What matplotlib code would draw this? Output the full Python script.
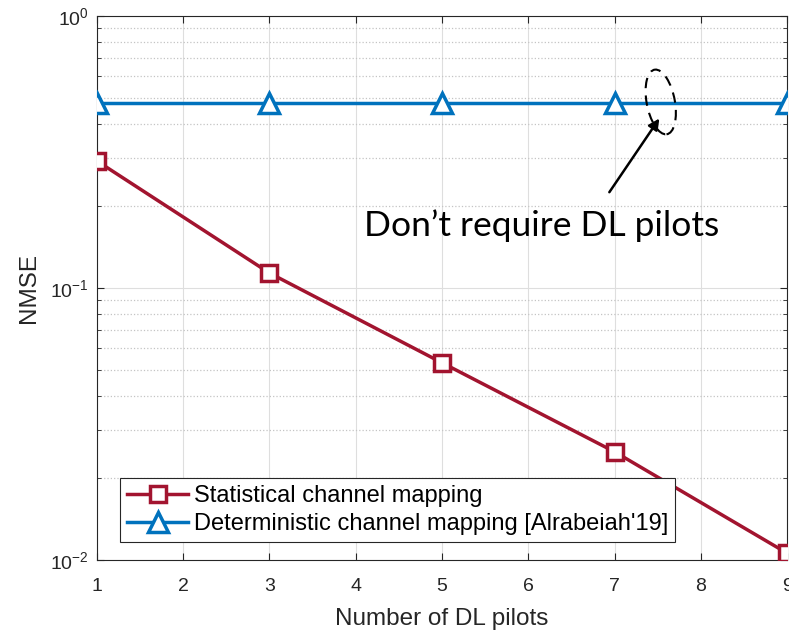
import numpy as np
import matplotlib
matplotlib.use("Agg")
import matplotlib.pyplot as plt
from matplotlib.patches import Ellipse

# data
pilots = [1, 3, 5, 7, 9]
nmse_stat = [0.293, 0.1135, 0.0531, 0.025, 0.0106]
nmse_det = [0.48, 0.48, 0.48, 0.48, 0.48]
lab_stat = "Statistical channel mapping"
lab_det = "Deterministic channel mapping [Alrabeiah'19]"

plt.rcParams['font.family'] = ['Liberation Sans', 'DejaVu Sans']
plt.rcParams['mathtext.fontset'] = 'custom'
plt.rcParams['mathtext.rm'] = 'Liberation Sans'
plt.rcParams['mathtext.it'] = 'Liberation Sans:italic'
plt.rcParams['mathtext.bf'] = 'Liberation Sans:bold'

fig = plt.figure(figsize=(7.89, 6.3), dpi=100)
ax = fig.add_axes([0.1229, 0.1111, 0.8746, 0.8635])

ax.semilogy(pilots, nmse_stat, color='#A2142F', lw=2.5, marker='s', ms=11,
            mfc='white', mew=2.5, label=lab_stat, zorder=3)
ax.semilogy(pilots, nmse_det, color='#0072BD', lw=2.5, marker='^', ms=14,
            mfc='white', mew=2.5, label=lab_det, zorder=3)

ax.set_xlim(1, 9)
ax.set_ylim(1e-2, 1)
ax.set_xticks(range(1, 10))
ax.set_xlabel("Number of DL pilots", fontsize=17.5, color='#262626', labelpad=9)
ax.set_ylabel("NMSE", fontsize=17.5, color='#262626', labelpad=7)

ax.grid(True, which='major', color='#dedede', lw=0.8, ls='-')
ax.grid(True, which='minor', axis='y', color='#c4c4c4', lw=0.9, ls=':')
ax.set_axisbelow(True)
ax.tick_params(which='both', direction='in', top=True, right=True,
               labelsize=14, colors='#262626')
ax.tick_params(axis='x', pad=13)
ax.tick_params(axis='y', pad=6)
ax.tick_params(which='major', length=5)
ax.tick_params(which='minor', length=3)
for s in ax.spines.values():
    s.set_color('#262626')
    s.set_linewidth(0.8)

leg = ax.legend(loc='lower left', fontsize=17, fancybox=False,
                edgecolor='#262626', framealpha=1, borderpad=0.3,
                handlelength=2.6, handletextpad=0.25, labelspacing=0.25,
                borderaxespad=0, bbox_to_anchor=(0.033, 0.033))
leg.get_frame().set_linewidth(0.8)

# annotation
ell = Ellipse((0.817, 0.842), 0.041, 0.12, angle=8, transform=ax.transAxes,
              fill=False, ls=(0, (5, 3.5)), lw=1.5, color='black', zorder=4)
ax.add_patch(ell)
ax.annotate("", xy=(7.52, 0.42), xytext=(6.94, 0.225),
            arrowprops=dict(arrowstyle='-|>', color='black', lw=1.8,
                            mutation_scale=16, shrinkA=0, shrinkB=0))
ax.text(6.16, 0.17, "Don\u2019t require DL pilots", fontsize=25.5,
        family=['Lato', 'DejaVu Sans'], ha='center', va='center')

fig.savefig("out.png", dpi=100)
